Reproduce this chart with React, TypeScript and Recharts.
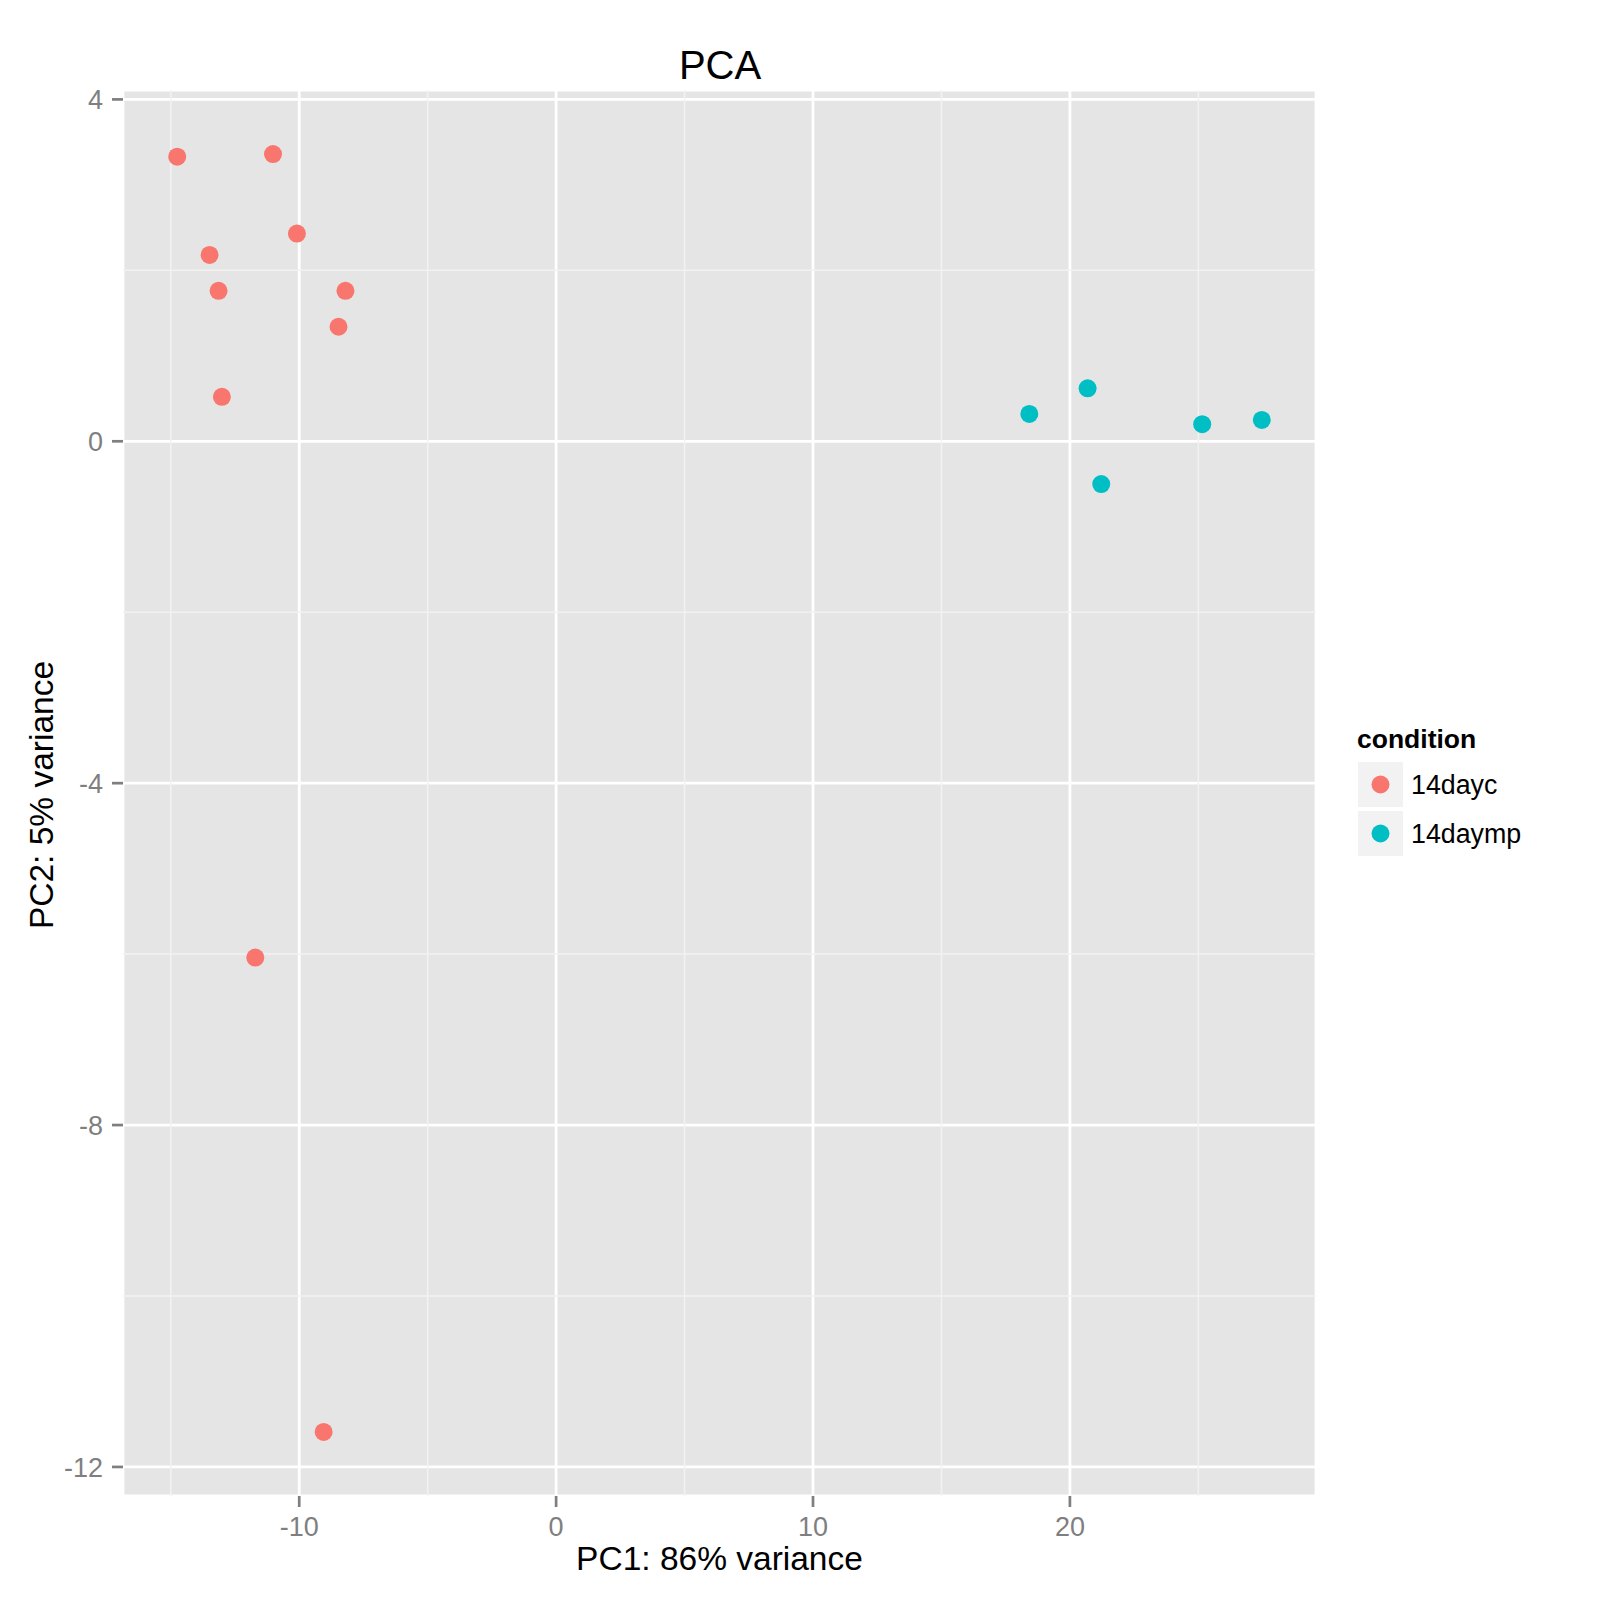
import { ScatterChart, Scatter, XAxis, YAxis, CartesianGrid, ReferenceLine, Legend } from 'recharts';

// PCA scores
const PC1_14DAYC = [-14.75, -11.02, -10.09, -13.49, -13.14, -8.2, -8.47, -13.01, -11.71, -9.05];
const PC2_14DAYC = [3.33, 3.36, 2.43, 2.18, 1.76, 1.76, 1.34, 0.52, -6.04, -11.59];
const PC1_14DAYMP = [18.42, 20.69, 21.22, 25.15, 27.47];
const PC2_14DAYMP = [0.32, 0.62, -0.5, 0.2, 0.25];

const X_TICKS = [-10, 0, 10, 20];
const Y_TICKS = [-12, -8, -4, 0, 4];
const X_MINOR = [-15, -5, 5, 15, 25];
const Y_MINOR = [-10, -6, -2, 2];
const X_DOMAIN = [-16.86, 29.58];
const Y_DOMAIN = [-12.34, 4.11];

const RED = '#F8766D';
const CYAN = '#00BFC4';
const FONT = '"Liberation Sans", Arial, Helvetica, sans-serif';

const toPoints = (xs: number[], ys: number[]) => xs.map((x, i) => ({ pc1: x, pc2: ys[i] }));
const dataC = toPoints(PC1_14DAYC, PC2_14DAYC);
const dataMP = toPoints(PC1_14DAYMP, PC2_14DAYMP);

const dot = (color: string) => (props: any) => (
  <circle cx={props.cx} cy={props.cy} r={9} fill={color} />
);

function LegendBox({ payload }: any) {
  const items = payload?.length ? payload : [];
  return (
    <svg width={220} height={170} style={{ overflow: 'visible' }}>
      <text x={17} y={48} fontSize={26.5} fontWeight="bold" fill="#000">condition</text>
      {items.map((p: any, i: number) => (
        <g key={p.value}>
          <rect x={18} y={62 + i * 49} width={45} height={45} fill="#f2f2f2" />
          <circle cx={40.5} cy={84.5 + i * 49} r={9} fill={p.color} />
          <text x={71} y={94 + i * 49} fontSize={26.8} fill="#000">{p.value}</text>
        </g>
      ))}
    </svg>
  );
}

export default function App() {
  return (
    <div style={{ position: 'absolute', left: 0, top: 0, width: 1600, height: 1600, background: '#fff', fontFamily: FONT }}>
      <div style={{ position: 'absolute', left: 520, top: 45, width: 400, textAlign: 'center', fontSize: 40, lineHeight: '40px', color: '#000' }}>
        PCA
      </div>
      <ScatterChart width={1600} height={1600} margin={{ top: 90, right: 284, bottom: 0, left: 0 }}>
        <CartesianGrid fill="#e5e5e5" stroke="#ffffff" strokeWidth={2.8} />
        {X_MINOR.map(v => (
          <ReferenceLine key={'xm' + v} x={v} stroke="#f2f2f2" strokeWidth={1.5} />
        ))}
        {Y_MINOR.map(v => (
          <ReferenceLine key={'ym' + v} y={v} stroke="#f2f2f2" strokeWidth={1.5} />
        ))}
        <XAxis
          type="number"
          dataKey="pc1"
          domain={X_DOMAIN}
          ticks={X_TICKS}
          interval={0}
          allowDataOverflow
          height={104}
          axisLine={false}
          tickSize={11}
          tickMargin={10}
          tickLine={{ stroke: '#7f7f7f', strokeWidth: 2.7 }}
          tick={{ fontSize: 27, fill: '#7f7f7f' }}
          label={{
            content: ({ viewBox }: any) => (
              <text x={viewBox.x + viewBox.width / 2} y={viewBox.y + 74} textAnchor="middle" fontSize={33.5} fill="#000">
                PC1: 86% variance
              </text>
            ),
          }}
        />
        <YAxis
          type="number"
          dataKey="pc2"
          domain={Y_DOMAIN}
          ticks={Y_TICKS}
          interval={0}
          allowDataOverflow
          width={123}
          axisLine={false}
          tickSize={11}
          tickMargin={9}
          tickLine={{ stroke: '#7f7f7f', strokeWidth: 2.7 }}
          tick={{ fontSize: 27, fill: '#7f7f7f' }}
          label={{
            content: ({ viewBox }: any) => {
              const cx = 53;
              const cy = viewBox.y + viewBox.height / 2 + 2;
              return (
                <text x={cx} y={cy} transform={`rotate(-90, ${cx}, ${cy})`} textAnchor="middle" fontSize={33.5} fill="#000">
                  PC2: 5% variance
                </text>
              );
            },
          }}
        />
        <Legend
          layout="horizontal"
          verticalAlign="middle"
          align="center"
          wrapperStyle={{ left: 1340, top: 700, width: 220, height: 170 }}
          content={<LegendBox />}
        />
        <Scatter name="14dayc" data={dataC} fill={RED} shape={dot(RED)} isAnimationActive={false} />
        <Scatter name="14daymp" data={dataMP} fill={CYAN} shape={dot(CYAN)} isAnimationActive={false} />
      </ScatterChart>
    </div>
  );
}
